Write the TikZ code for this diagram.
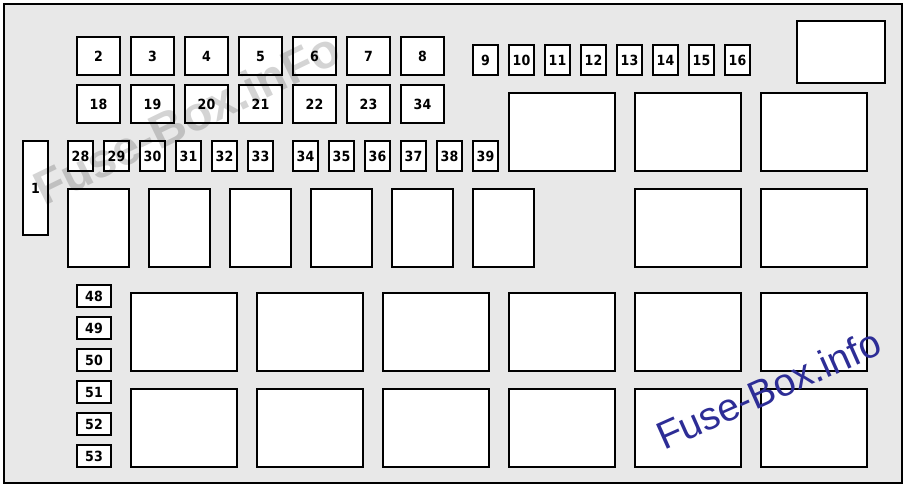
\documentclass[tikz,border=0pt]{standalone}
\usepackage{fontspec}
\newfontfamily\fusefont[FakeStretch=0.9]{DejaVu Sans}
\newfontfamily\wmfont{Liberation Sans}
\definecolor{panel}{RGB}{232,232,232}
\definecolor{wmblue}{RGB}{45,45,150}
\newcommand\fbx[6]{\node[fb, minimum width={(#4)-(#2)-2}, minimum height={(#5)-(#3)-2}] (#1) at ({((#2)+(#4))/2},{((#3)+(#5))/2}) {#6};}
\begin{document}
\begin{tikzpicture}[x=1pt,y=-1pt,
  fb/.style={draw=black, line width=2pt, fill=white, inner sep=0pt, font=\fusefont\bfseries\fontsize{14}{14}\selectfont}]
\useasboundingbox (0,0) rectangle (907,488);
\fill[white] (0,0) rectangle (907,488);
\draw[line width=2pt, fill=panel] (3.5,3.5) rectangle (902,482.5);
% top rows of fuses
\foreach \l [count=\i from 0] in {2,3,4,5,6,7,8}
  \fbx{a\i}{76+54*\i}{36}{121+54*\i}{76}{\l};
\foreach \l [count=\i from 0] in {18,19,20,21,22,23,34}
  \fbx{b\i}{76+54*\i}{84}{121+54*\i}{124}{\l};
% small fuses row
\foreach \l [count=\i from 0] in {28,29,30,31,32,33}
  \fbx{c\i}{67+36*\i}{140}{94+36*\i}{172}{\l};
\foreach \l [count=\i from 0] in {34,35,36,37,38,39}
  \fbx{d\i}{292+36*\i}{140}{319+36*\i}{172}{\l};
\foreach \l [count=\i from 0] in {9,10,11,12,13,14,15,16}
  \fbx{e\i}{472+36*\i}{44}{499+36*\i}{76}{\l};
% fuse 1
\fbx{f1}{22}{140}{49}{236}{1}
% top right box
\fbx{tr}{796}{20}{886}{84}{}
% relays right
\foreach \x [count=\i from 0] in {508,634,760}
  \fbx{r\i}{\x}{92}{\x+108}{172}{};
\foreach \x [count=\i from 0] in {634,760}
  \fbx{s\i}{\x}{188}{\x+108}{268}{};
% middle row
\foreach \i in {0,...,5}
  \fbx{m\i}{67+81*\i}{188}{130+81*\i}{268}{};
% bottom small fuses
\foreach \l [count=\i from 0] in {48,49,50,51,52,53}
  \fbx{g\i}{76}{284+32*\i}{112}{308+32*\i}{\l};
% bottom big boxes
\foreach \i in {0,...,5}{
  \fbx{p\i}{130+126*\i}{292}{238+126*\i}{372}{}
  \fbx{q\i}{130+126*\i}{388}{238+126*\i}{468}{}
}
% watermarks
\node[anchor=base west, rotate=26, inner sep=0pt, text=black, text opacity=0.17,
  font=\wmfont\bfseries\fontsize{48}{48}\selectfont] (wm1) at (44,207) {Fuse-Box.inFo};
\node[anchor=base west, rotate=24, inner sep=0pt, text=wmblue,
  font=\wmfont\fontsize{39}{39}\selectfont] (wm2) at (664,451) {Fuse-Box.info};
\end{tikzpicture}
\end{document}
